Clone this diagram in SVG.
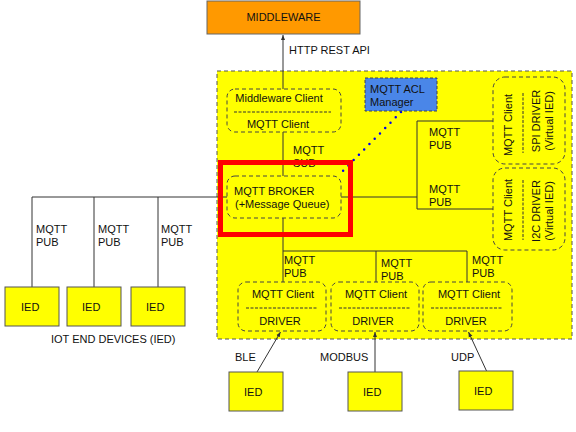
<svg xmlns="http://www.w3.org/2000/svg" width="576" height="432" viewBox="0 0 576 432">
<defs>
<style>
text{font-family:"Liberation Sans",Arial,sans-serif;font-size:11px;fill:#111}
.c{text-anchor:middle}
.box{fill:#FFFF00;stroke:#555;stroke-width:1}
.dbox{fill:#FFFF00;stroke:#444;stroke-width:1;stroke-dasharray:4 3}
.sep{stroke:#333;stroke-width:1;stroke-dasharray:3 1.5}
.ln{stroke:#333;stroke-width:1;fill:none}
</style>
<marker id="ah" markerWidth="6" markerHeight="6" refX="5" refY="3" orient="auto" markerUnits="userSpaceOnUse">
<path d="M0,1 L5,3 L0,5 z" fill="#333"/>
</marker>
</defs>
<rect width="576" height="432" fill="#fff"/>
<g id="container">
<rect x="217" y="71" width="355" height="268" fill="#FFFF00" stroke="#555" stroke-dasharray="4 3"/>
</g>
<g id="connectors">
<line class="ln" x1="283" y1="89" x2="283" y2="35" marker-end="url(#ah)"/>
<line class="ln" x1="283" y1="132" x2="283" y2="176"/>
<line class="ln" x1="283" y1="218" x2="283" y2="251"/>
<line class="ln" x1="283" y1="251" x2="467" y2="251"/>
<line class="ln" x1="283" y1="251" x2="283" y2="282"/>
<line class="ln" x1="376" y1="251" x2="376" y2="282"/>
<line class="ln" x1="467" y1="251" x2="467" y2="282"/>
<line class="ln" x1="32" y1="197" x2="227" y2="197"/>
<line class="ln" x1="32" y1="197" x2="32" y2="287"/>
<line class="ln" x1="94" y1="197" x2="94" y2="287"/>
<line class="ln" x1="158" y1="197" x2="158" y2="287"/>
<line class="ln" x1="341" y1="197" x2="417" y2="197"/>
<line class="ln" x1="417" y1="121" x2="417" y2="209"/>
<line class="ln" x1="417" y1="121" x2="493" y2="121"/>
<line class="ln" x1="417" y1="209" x2="493" y2="209"/>
<line class="ln" x1="257" y1="372" x2="280.5" y2="332" marker-end="url(#ah)"/>
<line class="ln" x1="375" y1="372" x2="375" y2="332" marker-end="url(#ah)"/>
<line class="ln" x1="487" y1="372" x2="468.5" y2="332" marker-end="url(#ah)"/>
<path d="M401,112 L338,176" stroke="#0000EE" stroke-width="2.5" stroke-linecap="round" stroke-dasharray="0 7.5" fill="none"/>
</g>
<g id="labels">
<text x="289" y="54">HTTP REST API</text>
<text x="293" y="154">MQTT</text>
<text x="293" y="167">SUB</text>
<text x="429" y="136">MQTT</text>
<text x="429" y="149">PUB</text>
<text x="429" y="193">MQTT</text>
<text x="429" y="206">PUB</text>
<text x="36" y="233">MQTT</text>
<text x="36" y="246">PUB</text>
<text x="98" y="233">MQTT</text>
<text x="98" y="246">PUB</text>
<text x="161" y="233">MQTT</text>
<text x="161" y="246">PUB</text>
<text x="284" y="264">MQTT</text>
<text x="284" y="277">PUB</text>
<text x="381" y="267">MQTT</text>
<text x="381" y="280">PUB</text>
<text x="472" y="264">MQTT</text>
<text x="472" y="277">PUB</text>
<text x="235" y="361">BLE</text>
<text x="320" y="361">MODBUS</text>
<text x="451" y="361">UDP</text>
<text x="51" y="343">IOT END DEVICES (IED)</text>
</g>
<g id="middleware">
<rect x="207" y="1" width="153" height="33" fill="#FF9900" stroke="#666"/>
<text class="c" x="283.5" y="21">MIDDLEWARE</text>
</g>
<g id="middleware-client">
<rect class="dbox" x="227" y="89" width="114" height="43" rx="8"/>
<text class="c" x="279" y="102">Middleware Client</text>
<line class="sep" x1="234" y1="112" x2="331" y2="112"/>
<text class="c" x="278" y="128">MQTT Client</text>
</g>
<g id="acl-manager">
<rect x="365" y="78" width="72" height="33" fill="#4A86E8" stroke="#444" stroke-dasharray="3 2"/>
<text x="370" y="93">MQTT ACL</text>
<text x="370" y="106">Manager</text>
</g>
<g id="broker">
<rect class="dbox" x="227" y="176" width="114" height="42" rx="8"/>
<text x="234" y="195">MQTT BROKER</text>
<text x="235" y="208">(+Message Queue)</text>
</g>
<g id="spi-driver">
<rect class="dbox" x="493" y="77" width="72" height="87" rx="12"/>
<text class="c" transform="translate(512,125) rotate(-90)">MQTT Client</text>
<line class="sep" x1="523" y1="93" x2="523" y2="153"/>
<text class="c" transform="translate(540,121) rotate(-90)">SPI DRIVER</text>
<text class="c" transform="translate(553,121) rotate(-90)">(Virtual IED)</text>
</g>
<g id="i2c-driver">
<rect class="dbox" x="493" y="168" width="72" height="82" rx="12"/>
<text class="c" transform="translate(512,210) rotate(-90)">MQTT Client</text>
<line class="sep" x1="523" y1="180" x2="523" y2="240"/>
<text class="c" transform="translate(540,211) rotate(-90)">I2C DRIVER</text>
<text class="c" transform="translate(553,211) rotate(-90)">(Virtual IED)</text>
</g>
<g id="driver-1">
<rect class="dbox" x="238" y="282" width="88" height="49" rx="8"/>
<text class="c" x="283" y="298">MQTT Client</text>
<line class="sep" x1="246" y1="308" x2="317" y2="308"/>
<text class="c" x="280" y="325">DRIVER</text>
</g>
<g id="driver-2">
<rect class="dbox" x="331" y="282" width="88" height="49" rx="8"/>
<text class="c" x="376" y="298">MQTT Client</text>
<line class="sep" x1="339" y1="308" x2="410" y2="308"/>
<text class="c" x="373" y="325">DRIVER</text>
</g>
<g id="driver-3">
<rect class="dbox" x="423" y="282" width="89" height="49" rx="8"/>
<text class="c" x="469" y="298">MQTT Client</text>
<line class="sep" x1="431" y1="308" x2="502" y2="308"/>
<text class="c" x="466" y="325">DRIVER</text>
</g>
<g id="ied-1">
<rect class="box" x="5" y="287" width="54" height="39"/>
<text x="21" y="311">IED</text>
</g>
<g id="ied-2">
<rect class="box" x="67" y="287" width="54" height="39"/>
<text x="82" y="311">IED</text>
</g>
<g id="ied-3">
<rect class="box" x="131" y="287" width="54" height="39"/>
<text x="146" y="311">IED</text>
</g>
<g id="ied-ble">
<rect class="box" x="229" y="372" width="54" height="39"/>
<text x="244" y="396">IED</text>
</g>
<g id="ied-modbus">
<rect class="box" x="348" y="372" width="54" height="39"/>
<text x="363" y="396">IED</text>
</g>
<g id="ied-udp">
<rect class="box" x="459" y="371" width="54" height="39"/>
<text x="474" y="395">IED</text>
</g>
<g id="highlight">
<rect x="220.5" y="162.5" width="130" height="72" fill="none" stroke="#FF0000" stroke-width="5"/>
</g>
</svg>
